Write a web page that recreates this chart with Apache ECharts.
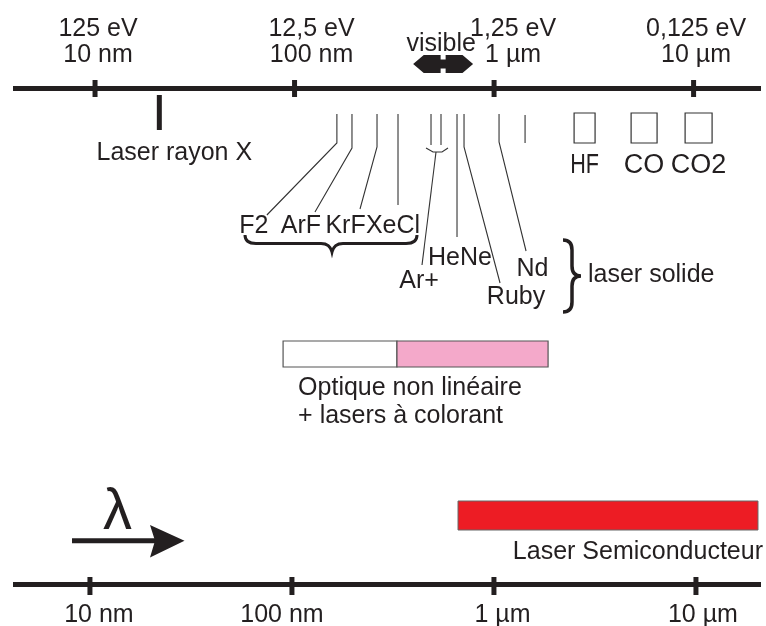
<!DOCTYPE html>
<html><head><meta charset="utf-8">
<script src="https://cdn.jsdelivr.net/npm/echarts@6/dist/echarts.min.js"></script>
<style>html,body{margin:0;padding:0;background:#fff}#c{width:766px;height:626px}</style>
</head><body><div id="c"></div>
<script>
// ---------- data (wavelengths in nm) ----------
const topAxisRange = [3.88, 21770];
const bottomAxisRange = [4.16, 20990];
const tickWavelengths = [10, 100, 1000, 10000];
const topEnergyLabels = ['125 eV', '12,5 eV', '1,25 eV', '0,125 eV'];
const topWavelengthLabels = ['10 nm', '100 nm', '1 µm', '10 µm'];
const bottomLabels = ['10 nm', '100 nm', '1 µm', '10 µm'];
const xrayWavelength = [21];
const xrayName = ['Laser rayon X'];
const excimerNames = ['F2', 'ArF', 'KrF', 'XeCl'];
const excimerWavelengths = [163, 194, 259, 330];
const argonWavelengths = [483, 542];
const argonName = ['Ar+'];
const lineLaserNames = ['HeNe', 'Ruby', 'Nd'];
const lineLaserWavelengths = [652, 707, 1059];
const unlabeledLineWavelengths = [1430];
const molecularNames = ['HF', 'CO', 'CO2'];
const molecularFrom = [2518, 4862, 9067];
const molecularTo = [3208, 6561, 12380];
const visibleRange = [393, 785];
const nonlinearRange = [87.6, 326];
const dyeRange = [326, 1865];
const semiconductorRange = [664, 20280];

// ---------- layout (pixels) & styles ----------
const INK = '#231f20';
const THIN = '#333333';
const FONT = '"Liberation Sans", Arial, Helvetica, sans-serif';
const LAY = {
  grid: {left: 13, right: 5, top: 88, bottom: 42},
  yRange: [88, 584],
  topTick: [80, 97], bottomTick: [577, 595], tickW: 5,
  energyY: 29, waveY: 55, topLabelDx: [3, 17, 19, 2.5],
  bottomLabelY: 615.5, bottomLabelDx: [9, -10, 8.5, 7],
  xray: {y0: 95, y1: 130, w: 5, labelDx: 15, labelY: 153},
  lineTop: 114,
  excimer: {bendY: [143, 148, 147, 205], endDx: [-70, -37, -17, 0], endY: [215, 212, 209, 205],
            labelDx: [-83, -51, -31.5, -5], labelY: 226},
  argon: {bottom: 145, cupY: [148, 152], connEnd: [-14, 265], labelDx: -17, labelY: 281},
  lineLaser: {bendY: [237, 147, 142], endDx: [0, 36, 27], endY: [237, 283, 251],
              labelDx: [3, 52, 33.5], labelY: [258, 297, 269]},
  unlabeled: [115, 143],
  box: [113, 143], boxLabelY: 166,
  visible: {y: 64, half: 9, shaftHalf: 4.5, gap: 2.5, head: 10.6, labelDx: -2, labelY: 44},
  optique: {y0: 341, y1: 367, textDx: 15, textY: [388, 416]},
  semi: {y0: 501, y1: 530, textDx: 5, textY: 552.5},
  excimerBrace: 'M245,235 Q245,243.5 256,243.5 L321,243.5 Q330,243.5 332,252 Q334,243.5 343,243.5 L406,243.5 Q417,243.5 417,235',
  solidBrace: 'M563,240 Q572,240 572,250 L572,266 Q572,276 581,276 Q572,276 572,286 L572,302 Q572,312 563,312',
  solidText: [588, 275]
};

function fnt(s) { return s + 'px ' + FONT; }
function T(x, y, s, size, align, extra) {
  const el = {type: 'text', style: {x: x, y: y, text: s, font: fnt(size || 25), fill: INK,
    align: align || 'center', textAlign: align || 'center', verticalAlign: 'middle', textVerticalAlign: 'middle'}};
  return Object.assign(el, extra || {});
}
function P(api, lam, y) { return api.coord([lam, y]); }
function PL(points, w, c) {
  return {type: 'polyline', shape: {points: points}, style: {stroke: c || THIN, lineWidth: w || 1.1, fill: null}};
}
function BR(d, w) {
  return {type: 'path', shape: {pathData: d}, style: {fill: null, stroke: INK, lineWidth: w}};
}

const series = [];
function custom(name, xi, data, render) {
  series.push({type: 'custom', name: name, xAxisIndex: xi, yAxisIndex: 0, data: data,
    clip: false, silent: true, animation: false, renderItem: render});
}

// top axis ticks & labels
custom('topTicks', 0, tickWavelengths.map(v => [v]), (p, api) => {
  const x = P(api, api.value(0), LAY.yRange[0])[0];
  return {type: 'rect', shape: {x: x - LAY.tickW / 2, y: LAY.topTick[0], width: LAY.tickW, height: LAY.topTick[1] - LAY.topTick[0]}, style: {fill: INK}};
});
custom('topLabels', 0, tickWavelengths.map(v => [v]), (p, api) => {
  const i = p.dataIndex;
  const x = P(api, api.value(0), LAY.yRange[0])[0] + LAY.topLabelDx[i];
  return {type: 'group', children: [T(x, LAY.energyY, topEnergyLabels[i]), T(x, LAY.waveY, topWavelengthLabels[i])]};
});
// bottom axis ticks & labels
custom('bottomTicks', 1, tickWavelengths.map(v => [v]), (p, api) => {
  const x = P(api, api.value(0), LAY.yRange[1])[0];
  return {type: 'rect', shape: {x: x - LAY.tickW / 2, y: LAY.bottomTick[0], width: LAY.tickW, height: LAY.bottomTick[1] - LAY.bottomTick[0]}, style: {fill: INK}};
});
custom('bottomLabels', 1, tickWavelengths.map(v => [v]), (p, api) => {
  const i = p.dataIndex;
  const x = P(api, api.value(0), LAY.yRange[1])[0] + LAY.bottomLabelDx[i];
  return T(x, LAY.bottomLabelY, bottomLabels[i]);
});
// X-ray laser
custom('xray', 0, xrayWavelength.map(v => [v]), (p, api) => {
  const x = P(api, api.value(0), LAY.xray.y0)[0];
  return {type: 'group', children: [
    {type: 'rect', shape: {x: x - LAY.xray.w / 2, y: LAY.xray.y0, width: LAY.xray.w, height: LAY.xray.y1 - LAY.xray.y0}, style: {fill: INK}},
    T(x + LAY.xray.labelDx, LAY.xray.labelY, xrayName[0])
  ]};
});
// excimer lasers
custom('excimer', 0, excimerWavelengths.map(v => [v]), (p, api) => {
  const i = p.dataIndex, E = LAY.excimer;
  const x = P(api, api.value(0), LAY.lineTop)[0];
  const ch = [
    PL([[x, LAY.lineTop], [x, E.bendY[i]], [x + E.endDx[i], E.endY[i]]]),
    T(x + E.labelDx[i], E.labelY, excimerNames[i])
  ];
  if (i === 0) ch.push(BR(LAY.excimerBrace, 3));
  return {type: 'group', children: ch};
});
// argon ion laser
custom('argon', 0, [argonWavelengths], (p, api) => {
  const A = LAY.argon;
  const x1 = P(api, api.value(0), LAY.lineTop)[0];
  const x2 = P(api, api.value(1), LAY.lineTop)[0];
  const m = (x1 + x2) / 2;
  return {type: 'group', children: [
    PL([[x1, LAY.lineTop], [x1, A.bottom]]),
    PL([[x2, LAY.lineTop], [x2, A.bottom]]),
    PL([[x1 - 5, A.cupY[0]], [x1 + 2, A.cupY[1]], [x2 + 1, A.cupY[1]], [x2 + 7, A.cupY[0]]]),
    PL([[m, A.cupY[1]], [m + A.connEnd[0], A.connEnd[1]]]),
    T(m + A.labelDx, A.labelY, argonName[0])
  ]};
});
// HeNe, Ruby, Nd
custom('lineLasers', 0, lineLaserWavelengths.map(v => [v]), (p, api) => {
  const i = p.dataIndex, L = LAY.lineLaser;
  const x = P(api, api.value(0), LAY.lineTop)[0];
  const ch = [
    PL([[x, LAY.lineTop], [x, L.bendY[i]], [x + L.endDx[i], L.endY[i]]]),
    T(x + L.labelDx[i], L.labelY[i], lineLaserNames[i])
  ];
  if (i === 0) {
    ch.push(BR(LAY.solidBrace, 3.5));
    ch.push(T(LAY.solidText[0], LAY.solidText[1], 'laser solide', 25, 'left'));
  }
  return {type: 'group', children: ch};
});
custom('unlabeled', 0, unlabeledLineWavelengths.map(v => [v]), (p, api) => {
  const x = P(api, api.value(0), LAY.lineTop)[0];
  return PL([[x, LAY.unlabeled[0]], [x, LAY.unlabeled[1]]]);
});
// molecular lasers (HF, CO, CO2)
custom('molecular', 0, molecularFrom.map((v, i) => [v, molecularTo[i]]), (p, api) => {
  const i = p.dataIndex;
  const a = P(api, api.value(0), LAY.box[0])[0];
  const b = P(api, api.value(1), LAY.box[0])[0];
  const c = (a + b) / 2;
  const label = i === 0
    ? {type: 'text', x: c, y: LAY.boxLabelY, scaleX: 0.8, style: {x: 0, y: 0, text: molecularNames[i], font: fnt(27), fill: INK, align: 'center', textAlign: 'center', verticalAlign: 'middle', textVerticalAlign: 'middle'}}
    : T(c, LAY.boxLabelY, molecularNames[i], 27);
  return {type: 'group', children: [
    {type: 'rect', shape: {x: a, y: LAY.box[0], width: b - a, height: LAY.box[1] - LAY.box[0]}, style: {fill: null, stroke: THIN, lineWidth: 1.2}},
    label
  ]};
});
// visible range
custom('visible', 0, [visibleRange], (p, api) => {
  const V = LAY.visible;
  const l = P(api, api.value(0), V.y)[0];
  const r = P(api, api.value(1), V.y)[0];
  const m = (l + r) / 2, y = V.y, h = V.half, s = V.shaftHalf, g = V.gap, k = V.head;
  return {type: 'group', children: [
    {type: 'polygon', shape: {points: [[l, y], [l + k, y - h], [m - g, y - h], [m - g, y - s], [m + g, y - s], [m + g, y - h],
      [r - k, y - h], [r, y], [r - k, y + h], [m + g, y + h], [m + g, y + s], [m - g, y + s], [m - g, y + h], [l + k, y + h]]},
      style: {fill: INK}},
    T(m + V.labelDx, V.labelY, 'visible')
  ]};
});
// nonlinear optics + dye lasers
custom('optique', 0, [[nonlinearRange[0], nonlinearRange[1], dyeRange[0], dyeRange[1]]], (p, api) => {
  const O = LAY.optique;
  const a = P(api, api.value(0), O.y0)[0], b = P(api, api.value(1), O.y0)[0];
  const c = P(api, api.value(2), O.y0)[0], d = P(api, api.value(3), O.y0)[0];
  return {type: 'group', children: [
    {type: 'rect', shape: {x: a, y: O.y0, width: b - a, height: O.y1 - O.y0}, style: {fill: '#ffffff', stroke: '#555', lineWidth: 1.2}},
    {type: 'rect', shape: {x: c, y: O.y0, width: d - c, height: O.y1 - O.y0}, style: {fill: '#f4a9ca', stroke: '#555', lineWidth: 1.2}},
    T(a + O.textDx, O.textY[0], 'Optique non linéaire', 25, 'left'),
    T(a + O.textDx, O.textY[1], '+ lasers à colorant', 25, 'left')
  ]};
});
// semiconductor lasers
custom('semiconductor', 1, [semiconductorRange], (p, api) => {
  const S = LAY.semi;
  const a = P(api, api.value(0), S.y0)[0], b = P(api, api.value(1), S.y0)[0];
  return {type: 'group', children: [
    {type: 'rect', shape: {x: a, y: S.y0, width: b - a, height: S.y1 - S.y0}, style: {fill: '#ed1c24', stroke: '#666', lineWidth: 1}},
    T(b + S.textDx, S.textY, 'Laser Semiconducteur', 25, 'right')
  ]};
});

const axisCommon = {
  type: 'log', logBase: 10, gridIndex: 0,
  axisLine: {show: true, onZero: false, lineStyle: {color: INK, width: 5, cap: 'butt'}},
  axisTick: {show: false}, minorTick: {show: false},
  axisLabel: {show: false}, splitLine: {show: false}, minorSplitLine: {show: false}
};

const option = {
  backgroundColor: '#ffffff',
  animation: false,
  grid: [Object.assign({containLabel: false}, LAY.grid)],
  xAxis: [
    Object.assign({}, axisCommon, {position: 'top', min: topAxisRange[0], max: topAxisRange[1]}),
    Object.assign({}, axisCommon, {position: 'bottom', min: bottomAxisRange[0], max: bottomAxisRange[1]})
  ],
  yAxis: [{type: 'value', min: LAY.yRange[0], max: LAY.yRange[1], inverse: true, show: false}],
  graphic: [
    // lambda arrow
    {type: 'line', silent: true, shape: {x1: 72, y1: 540.8, x2: 158, y2: 540.8}, style: {stroke: INK, lineWidth: 5}},
    {type: 'polygon', silent: true, shape: {points: [[150, 525], [184.5, 540.8], [150, 557.5], [155, 540.8]]}, style: {fill: INK}},
    {type: 'text', silent: true, style: {x: 117.5, y: 513, text: 'λ', font: fnt(58), fill: INK, align: 'center', verticalAlign: 'middle'}}
  ],
  series: series
};

const chart = echarts.init(document.getElementById('c'), null, {renderer: 'canvas'});
chart.setOption(option);
</script>
</body></html>
